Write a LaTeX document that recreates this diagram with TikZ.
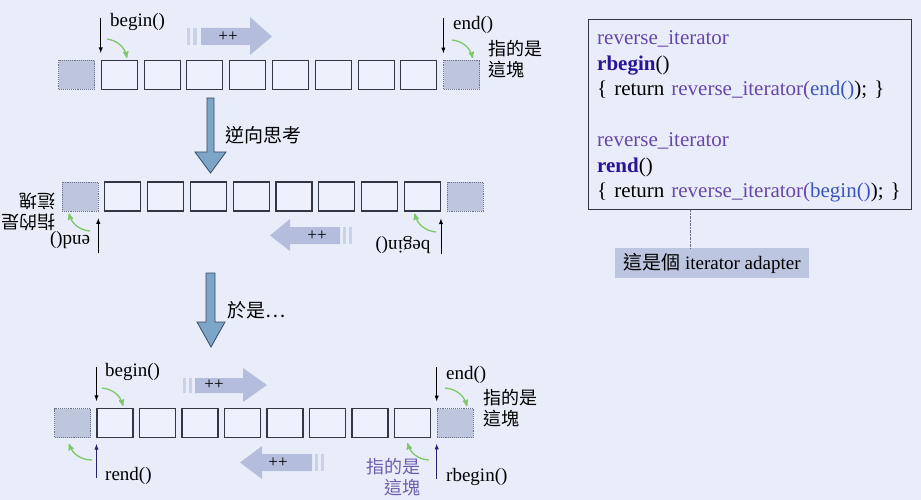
\documentclass[tikz,border=0pt]{standalone}
\usepackage{fontspec}
\setmainfont{Liberation Serif}
\newfontfamily\cjk{Noto Sans CJK TC}
\usetikzlibrary{arrows}
\definecolor{bg}{RGB}{233,237,249}
\definecolor{cellfill}{RGB}{238,241,252}
\definecolor{cellline}{RGB}{50,55,70}
\definecolor{endfill}{RGB}{190,198,222}
\definecolor{endline}{RGB}{110,115,140}
\definecolor{fatfill}{RGB}{180,190,220}
\definecolor{stripefill}{RGB}{202,210,234}
\definecolor{downfill}{RGB}{125,165,200}
\definecolor{downline}{RGB}{55,75,100}
\definecolor{hintgreen}{RGB}{125,200,105}
\definecolor{ptrnavy}{RGB}{35,35,105}
\definecolor{kwpurple}{RGB}{105,70,170}
\definecolor{kwnavy}{RGB}{40,20,150}
\definecolor{kwblue}{RGB}{60,85,190}
\definecolor{notefill}{RGB}{188,198,224}
\definecolor{notepurple}{RGB}{105,95,175}
\newcommand{\rv}[1]{\textcolor{kwpurple}{#1}}
\newcommand{\nv}[1]{\textcolor{kwnavy}{\textbf{#1}}}
\newcommand{\bl}[1]{\textcolor{kwblue}{#1}}
\tikzset{
  cell/.style={draw=cellline,fill=cellfill,line width=1.1pt,minimum width=36pt,minimum height=29pt,inner sep=0pt},
  endcell/.style={cell,draw=endline,fill=endfill,densely dotted,line width=0.6pt},
  ptr/.style={->,>=latex,line width=0.9pt},
  rptr/.style={ptr,draw=ptrnavy},
  hint/.style={->,>=stealth',draw=hintgreen,line width=1.3pt},
  lbl/.style={font=\fontsize{19}{21}\selectfont,inner sep=0pt},
  cjklbl/.style={font=\cjk\fontsize{18}{21}\selectfont,align=left,inner sep=0pt},
  fat/.style={fill=fatfill},
  stripe/.style={fill=stripefill},
  inc/.style={font=\fontsize{17}{17}\selectfont,inner sep=0pt},
  bigarrow/.style={fill=downfill,draw=downline,line width=0.8pt},
}
\begin{document}
\begin{tikzpicture}[x=1pt,y=-1pt]
\useasboundingbox[fill=bg] (0,0) rectangle (921,500);

% row 1
\node[endcell] (a0) at (76.5,75) {};
\foreach \i in {1,...,8} \node[cell] (a\i) at ({76.5+42.8*\i},75) {};
\node[endcell] (a9) at ({76.5+42.8*9},75) {};
\node[lbl,anchor=west] (beg1) at (110,22) {begin()};
\draw[ptr] ([yshift=42pt]a1.north west) -- ([yshift=7pt]a1.north west);
\draw[hint] (107,39) to[bend left=35] ([xshift=7.7pt,yshift=2pt]a1.north);
\node[lbl,anchor=west] (end1) at (453,25) {end()};
\draw[ptr] ([yshift=42pt]a9.north west) -- ([yshift=7pt]a9.north west);
\draw[hint] (452,40) to[bend left=35] ([xshift=11pt,yshift=2pt]a9.north);
\node[cjklbl,anchor=west] (here1) at (488,59) {指的是\\這塊};
\fill[stripe] (187,28) rectangle (190,45);
\fill[stripe] (193,28) rectangle (197,45);
\fill[fat] (201,28) -- (250,28) -- (250,17) -- (272,36.5) -- (250,55) -- (250,45) -- (201,45) -- cycle;
\node[inc] (inc1) at (228,36.5) {++};

% think in reverse
\draw[bigarrow] (207,98) -- (214,98) -- (214,152) -- (226,152) -- (210.5,173) -- (195,152) -- (207,152) -- cycle;
\node[cjklbl,anchor=west,font=\cjk\fontsize{19}{21}\selectfont] (think) at (225,135) {逆向思考};

% row 2, turned round
\node[endcell] (b0) at (80,196.5) {};
\foreach \i in {1,...,8} \node[cell] (b\i) at ({80+42.8*\i},196.5) {};
\node[endcell] (b9) at ({80+42.8*9},196.5) {};
\node[lbl,rotate=180] (end2) at (70,240) {end()};
\draw[ptr] ([yshift=-42pt]b0.south east) -- ([yshift=-7pt]b0.south east);
\draw[hint] (90,231) to[bend left=35] ([xshift=-11pt,yshift=-2pt]b0.south);
\node[cjklbl,rotate=180] (here2) at (28,212) {指的是\\這塊};
\node[lbl,rotate=180] (beg2) at (403,245) {begin()};
\draw[ptr] ([yshift=-42pt]b8.south east) -- ([yshift=-7pt]b8.south east);
\draw[hint] (436,232) to[bend left=35] ([xshift=-7.7pt,yshift=-2pt]b8.south);
\fill[stripe] (343,227) rectangle (346,244);
\fill[stripe] (349,227) rectangle (352,244);
\fill[fat] (340,227) -- (290,227) -- (290,219) -- (270,235.5) -- (290,251) -- (290,244) -- (340,244) -- cycle;
\node[inc] (inc2) at (317,235.5) {++};

% so...
\draw[bigarrow] (206,273) -- (215,273) -- (215,322) -- (225,322) -- (211,347) -- (197,322) -- (206,322) -- cycle;
\node[cjklbl,anchor=west,font=\cjk\fontsize{19}{21}\selectfont] (sothen) at (227,310) {於是…};

% row 3
\node[endcell] (c0) at (72.5,423) {};
\foreach \i in {1,...,8} \node[cell] (c\i) at ({72.5+42.5*\i},423) {};
\node[endcell] (c9) at ({72.5+42.5*9},423) {};
\node[lbl,anchor=west] (beg3) at (105,372) {begin()};
\draw[ptr] ([yshift=41pt]c1.north west) -- ([yshift=7pt]c1.north west);
\draw[hint] (102,388) to[bend left=35] ([xshift=8pt,yshift=2pt]c1.north);
\node[lbl,anchor=west] (rend3) at (105,476) {rend()};
\draw[rptr] ([yshift=-40pt]c1.south west) -- ([yshift=-6pt]c1.south west);
\draw[hint] (92,460) to[bend left=35] ([xshift=-3.5pt,yshift=-6pt]c0.south);
\node[lbl,anchor=west] (end3) at (446,375) {end()};
\draw[ptr] ([yshift=41pt]c9.north west) -- ([yshift=7pt]c9.north west);
\draw[hint] (445,388) to[bend left=35] ([xshift=12pt,yshift=2pt]c9.north);
\node[cjklbl,anchor=west] (here3) at (483,408) {指的是\\這塊};
\node[lbl,anchor=west] (rbeg3) at (446,477) {rbegin()};
\draw[rptr] ([yshift=-41pt]c9.south west) -- ([yshift=-6pt]c9.south west);
\draw[hint] (429,460) to[bend left=35] ([xshift=-5pt,yshift=-5pt]c8.south);
\node[cjklbl,align=right,text=notepurple] (here4) at (393,477) {指的是\\這塊};
\fill[stripe] (183,378) rectangle (186,393);
\fill[stripe] (189,378) rectangle (192,393);
\fill[fat] (195,378) -- (243,378) -- (243,368) -- (267,385) -- (243,402) -- (243,393) -- (195,393) -- cycle;
\node[inc] (inc3) at (214,385) {++};
\fill[stripe] (315,454) rectangle (318,471);
\fill[stripe] (321,454) rectangle (324,471);
\fill[fat] (312,454) -- (262,454) -- (262,446) -- (240,462.5) -- (262,479) -- (262,471) -- (312,471) -- cycle;
\node[inc] (inc4) at (278,462.5) {++};

% code
\node[draw=cellline,line width=0.9pt,anchor=north west,minimum width=323pt,minimum height=190pt] (code) at (588,19) {};
\node[anchor=north west,inner sep=0pt,text width=305pt,align=left,
  font=\fontsize{21}{25.5}\selectfont] (codetext) at (597,30.5) {%
  \rv{reverse\_iterator}\\
  \nv{rbegin}()\\
  \{ return \rv{reverse\_iterator(}\bl{end()}); \}\\[25.5pt]
  \rv{reverse\_iterator}\\
  \nv{rend}()\\
  \{ return \rv{reverse\_iterator(}\bl{begin()}); \}};
\node[fill=notefill,minimum width=194pt,minimum height=30pt,inner sep=0pt,
  font=\fontsize{19}{21}\selectfont] (adapter) at (712,263) {{\cjk 這是個} iterator adapter};
\coordinate (tick) at (690,209);
\draw[densely dotted,draw=endline] (code.south -| tick) -- (adapter.north -| tick);
\end{tikzpicture}
\end{document}
